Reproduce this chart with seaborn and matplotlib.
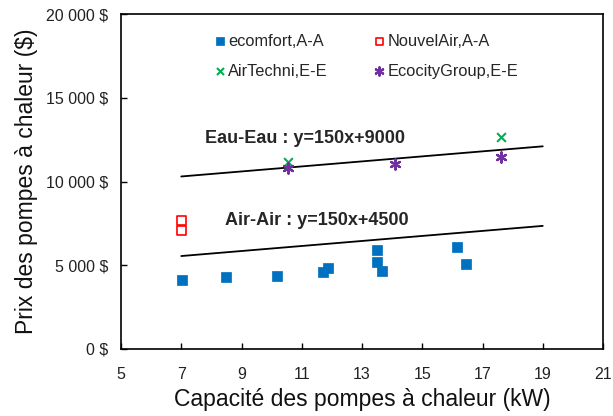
import matplotlib
matplotlib.use("Agg")
import matplotlib.pyplot as plt
import seaborn as sns
import pandas as pd
from matplotlib.ticker import FuncFormatter

# ---- data ----
ecomfort_x = [7.03, 8.5, 10.17, 11.72, 11.88, 13.51, 13.51, 13.66, 16.14, 16.44]
ecomfort_y = [4120, 4280, 4360, 4580, 4860, 5890, 5190, 4640, 6070, 5090]
nouvelair_x = [7.02, 7.02]
nouvelair_y = [7660, 7060]
airtechni_x = [10.56, 17.6]
airtechni_y = [11150, 12630]
ecocity_x = [10.56, 14.1, 17.6]
ecocity_y = [10790, 11020, 11480]

line_x = [7, 19]
eau_line_y = [10300, 12100]
air_line_y = [5550, 7350]

eau_label = "Eau-Eau : y=150x+9000"
air_label = "Air-Air : y=150x+4500"
x_ticks = [5, 7, 9, 11, 13, 15, 17, 19, 21]
y_ticks = [0, 5000, 10000, 15000, 20000]

sns.set_theme(style="white")
plt.rcParams['font.family'] = ['Liberation Sans', 'DejaVu Sans']

fig = plt.figure(figsize=(6.13, 4.16), dpi=100)
ax = fig.add_axes([121/613, 1-349/416, (603-121)/613, (349-14)/416])

sns.lineplot(x=line_x, y=eau_line_y, ax=ax, color='black', lw=1.3, legend=False)
sns.lineplot(x=line_x, y=air_line_y, ax=ax, color='black', lw=1.3, legend=False)

sns.scatterplot(x=ecomfort_x, y=ecomfort_y, ax=ax, marker='s', s=60,
                color='#0070C0', edgecolor='#0070C0', linewidth=0.5, label='ecomfort,A-A', zorder=3)
sns.scatterplot(x=nouvelair_x, y=nouvelair_y, ax=ax, marker='s', s=40,
                facecolor='none', edgecolor='#FF0000', linewidth=1.2, label='NouvelAir,A-A', zorder=3)
sns.scatterplot(x=airtechni_x, y=airtechni_y, ax=ax, marker='x', s=40,
                color='#00B050', linewidth=1.5, label='AirTechni,E-E', zorder=3)
sns.scatterplot(x=ecocity_x, y=ecocity_y, ax=ax, marker=(6, 2, 0), s=55,
                color='#7030A0', edgecolor='#7030A0', linewidth=1.6, label='EcocityGroup,E-E', zorder=3)

ax.text(7.79, 12580, eau_label, fontsize=13, fontweight='bold', va='center', ha='left')
ax.text(8.45, 7660, air_label, fontsize=13, fontweight='bold', va='center', ha='left')

ax.set_xlim(5, 21)
ax.set_ylim(0, 20000)
ax.set_xticks(x_ticks)
ax.set_yticks(y_ticks)
ax.yaxis.set_major_formatter(FuncFormatter(lambda v, p: f"{int(v):,} $".replace(",", " ")))
ax.tick_params(direction='in', length=4, width=1, colors='black', labelcolor='#222222',
               labelsize=11.5, top=False, right=False, bottom=True, left=True)
ax.tick_params(axis='y', pad=9)
ax.tick_params(axis='x', pad=13)
for s in ax.spines.values():
    s.set_color('black')
    s.set_linewidth(1.2)

ax.set_xlabel("Capacité des pompes à chaleur (kW)", fontsize=16.5, color='#111111', labelpad=4)
ax.set_ylabel("Prix des pompes à chaleur ($)", fontsize=16.5, color='#111111', labelpad=6)

h, l = ax.get_legend_handles_labels()
order = [0, 2, 1, 3]
leg = ax.legend([h[i] for i in order], [l[i] for i in order],
                loc='upper left', bbox_to_anchor=(0.158, 0.985), ncol=2, frameon=False,
                fontsize=11.8, handletextpad=0.0, columnspacing=2.63, handlelength=1.0,
                labelspacing=0.9, markerscale=0.8)

fig.savefig("out.png", dpi=100)
